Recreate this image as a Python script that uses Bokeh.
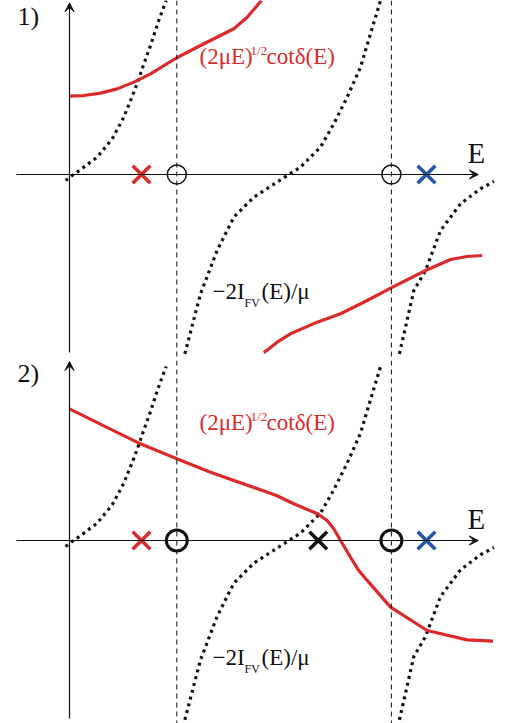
from bokeh.plotting import figure
from bokeh.layouts import column
from bokeh.models import Range1d, Arrow, VeeHead, Span
from bokeh.core.properties import value
from bokeh.embed import file_html
from bokeh.resources import INLINE

# ---------------- data (schematic units) ----------------
# -2 I_FV(E)/mu : three branches (same in both panels)
fv1_E = [-0.037, 0.025, 0.071, 0.258, 0.398, 0.506, 0.600, 0.640, 0.677, 0.755, 0.826, 0.901]
fv1_y = [-0.056, -0.009, 0.022, 0.162, 0.332, 0.534, 0.767, 0.876, 0.985, 1.202, 1.420, 1.622]
fv2_E = [1.075, 1.221, 1.376, 1.531, 1.718, 1.935, 2.043, 2.152, 2.339, 2.463, 2.588, 2.712, 2.805, 2.899]
fv2_y = [-1.671, -1.112, -0.708, -0.398, -0.211, -0.071, 0.0, 0.068, 0.255, 0.472, 0.721, 1.0, 1.311, 1.622]
fv3_E = [3.075, 3.209, 3.318, 3.458, 3.644, 3.830, 3.955]
fv3_y = [-1.671, -1.081, -0.895, -0.522, -0.273, -0.133, -0.065]

# panel 1: (2 mu E)^{1/2} cot delta(E), two branches
p1_redA_E = [0.0, 0.134, 0.289, 0.444, 0.600, 0.755, 1.0, 1.221, 1.531, 1.656, 1.789]
p1_redA_y = [0.730, 0.736, 0.758, 0.798, 0.861, 0.938, 1.088, 1.202, 1.358, 1.466, 1.622]
p1_redB_E = [1.811, 1.935, 2.059, 2.308, 2.526, 2.774, 2.998, 3.318, 3.551, 3.706, 3.846]
p1_redB_y = [-1.662, -1.563, -1.485, -1.376, -1.298, -1.174, -1.056, -0.895, -0.792, -0.764, -0.755]

# panel 2: (2 mu E)^{1/2} cot delta(E)
p2_red_E = [0.0, 0.661, 1.0, 1.314, 1.929, 2.090, 2.311, 2.401, 2.463, 2.526, 2.619, 2.696, 2.774, 2.992, 3.333, 3.706, 3.948]
p2_red_y = [1.227, 0.901, 0.761, 0.637, 0.419, 0.342, 0.249, 0.186, 0.109, 0.0, -0.156, -0.280, -0.372, -0.621, -0.839, -0.926, -0.938]

threshold_E = [1.0, 3.0]          # dashed lines / open circles
red_pole_E = [0.671]
blue_pole_E = [3.327]
black_pole_E = [2.318]            # panel 2 only

RED = "#dc2a2a"
BLUE = "#2456a6"
INK = "#111111"
FONT = value("Liberation Serif")
K = 107.3  # pixels per unit
W = 509


def txt(p, x, y, s, fs, color):
    # y is the wanted baseline; compensate the svg baseline rendering
    p.text([x], [y + 0.37 * fs / K], text=[s], text_font=FONT, text_font_size=f"{fs}px",
           text_color=color, text_baseline="alphabetic", text_align="left")


def make_panel(height, ybot, ytop, label, label_y, red_branches, circle_size, circle_lw,
               extra_cross, vtop):
    p = figure(width=W, height=height,
               x_range=Range1d(-69 / K, (W - 69) / K),
               y_range=Range1d(ybot, ytop),
               output_backend="svg", toolbar_location=None,
               x_axis_type=None, y_axis_type=None, min_border=0)
    p.grid.visible = False
    p.outline_line_color = None
    p.background_fill_color = "white"

    # axes with arrows
    p.add_layout(Arrow(end=VeeHead(size=9, fill_color=INK, line_color=INK, line_width=1),
                       x_start=-0.494, y_start=0, x_end=3.81, y_end=0,
                       line_color=INK, line_width=1.2))
    p.add_layout(Arrow(end=VeeHead(size=9, fill_color=INK, line_color=INK, line_width=1),
                       x_start=0, y_start=-1.659, x_end=0, y_end=vtop,
                       line_color=INK, line_width=1.2))

    for t in threshold_E:
        p.add_layout(Span(location=t, dimension="height", line_color=INK,
                          line_width=1, line_dash="5 4"))

    # dotted -2I_FV/mu
    for xs, ys in ((fv1_E, fv1_y), (fv2_E, fv2_y), (fv3_E, fv3_y)):
        p.line(xs, ys, line_color=INK, line_width=3.2, line_dash="3 4", line_cap="butt")

    # red curves
    for xs, ys in red_branches:
        p.line(xs, ys, line_color=RED, line_width=3.2)

    # markers on E axis
    p.scatter(threshold_E, [0] * len(threshold_E), marker="circle", size=circle_size,
              fill_color=None, line_color=INK, line_width=circle_lw)
    p.scatter(red_pole_E, [0], marker="x", size=25, line_color=RED, line_width=3.5)
    p.scatter(blue_pole_E, [0], marker="x", size=25, line_color=BLUE, line_width=3.5)
    if extra_cross:
        p.scatter(black_pole_E, [0], marker="x", size=25, line_color=INK, line_width=3.5)

    # labels
    txt(p, 3.709, 11 / K, "E", 29, INK)
    txt(p, -0.485, label_y, label, 26, INK)

    # red label  (2 mu E)^{1/2} cot delta(E)
    rx, ry = 1.212, 1.02
    txt(p, rx, ry, "(2μE)", 23, RED)
    txt(p, rx + 51 / K, ry + 10 / K, "1/2", 13, RED)
    txt(p, rx + 67 / K, ry, "cotδ(E)", 23, RED)

    # black label  -2 I_FV(E)/mu
    bx, by = 1.333, -1.17
    txt(p, bx, by, "−2I", 23, INK)
    txt(p, bx + 32 / K, by - 7 / K, "FV", 12, INK)
    txt(p, bx + 49 / K, by, "(E)/μ", 23, INK)
    return p


p1 = make_panel(360, (174 - 360) / K, 174 / K, "1)", (174 - 26) / K,
                [(p1_redA_E, p1_redA_y), (p1_redB_E, p1_redB_y)], 19, 1.5, False, 1.60)
p2 = make_panel(363, (540 - 723) / K, (540 - 360) / K, "2)", (540 - 383) / K,
                [(p2_red_E, p2_red_y)], 21, 3.0, True, 1.668)

layout = column(p1, p2, spacing=0)
open("out.html", "w").write(file_html(layout, INLINE))
